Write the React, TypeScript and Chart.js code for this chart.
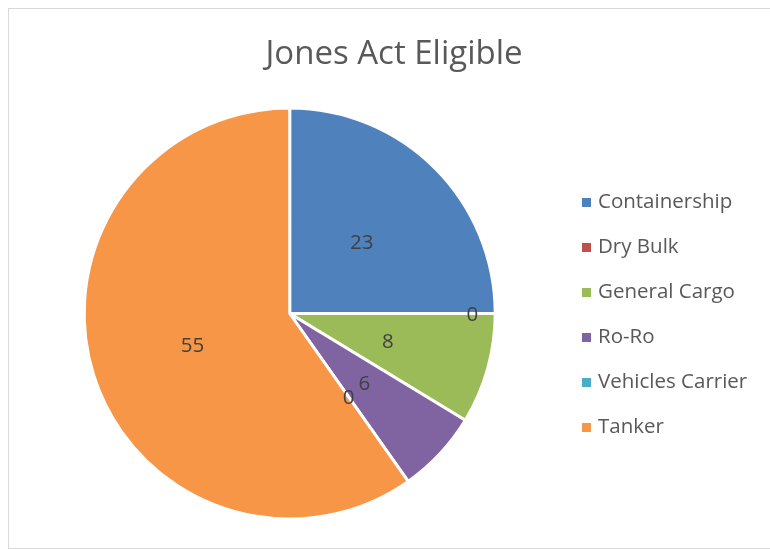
import React, { useEffect, useRef } from "react";
import { Chart, registerables } from "chart.js";

Chart.register(...registerables);

const TITLE = "Jones Act Eligible";
const categories = ["Containership", "Dry Bulk", "General Cargo", "Ro-Ro", "Vehicles Carrier", "Tanker"];
const values = [23, 0, 8, 6, 0, 55];
const colors = ["#4F81BD", "#C0504D", "#9BBB59", "#8064A2", "#4BACC6", "#F79646"];
// label distance from centre as a fraction of the radius (style only)
const labelRadiusFrac = [0.5, 0.895, 0.5, 0.5, 0.5, 0.5];

const FONT = "'Open Sans', 'DejaVu Sans', sans-serif";

const overlayPlugin = {
  id: "overlay",
  afterDatasetsDraw(chart: any) {
    const ctx = chart.ctx as CanvasRenderingContext2D;
    const meta = chart.getDatasetMeta(0);
    ctx.save();
    // data labels
    ctx.font = `20.5px ${FONT}`;
    ctx.fillStyle = "#404040";
    ctx.textAlign = "center";
    ctx.textBaseline = "alphabetic";
    meta.data.forEach((arc: any, i: number) => {
      const { x, y, startAngle, endAngle, outerRadius } = arc.getProps(
        ["x", "y", "startAngle", "endAngle", "outerRadius"],
        true
      );
      const mid = (startAngle + endAngle) / 2;
      const r = (outerRadius - 1.5) * labelRadiusFrac[i];
      const lx = x + Math.cos(mid) * r;
      const ly = y + Math.sin(mid) * r;
      ctx.fillText(String(values[i]), lx, ly + 7.3);
    });
    // title
    ctx.font = `33px ${FONT}`;
    ctx.fillStyle = "#595959";
    ctx.textAlign = "center";
    ctx.fillText(TITLE, 385, 55);
    // legend
    ctx.font = `20.5px ${FONT}`;
    ctx.textAlign = "left";
    categories.forEach((c, i) => {
      const top = 189 + i * 45;
      ctx.fillStyle = colors[i];
      ctx.fillRect(573, top, 9, 9);
      ctx.fillStyle = "#595959";
      ctx.fillText(c, 589, top + 10);
    });
    ctx.restore();
  },
};

export default function App() {
  const ref = useRef<HTMLCanvasElement | null>(null);
  useEffect(() => {
    if (!ref.current) return;
    const chart = new Chart(ref.current, {
      type: "pie",
      data: {
        labels: categories,
        datasets: [
          {
            data: values,
            backgroundColor: colors,
            borderColor: "#ffffff",
            borderWidth: 3,
            radius: 205.5,
          } as any,
        ],
      },
      options: {
        animation: false,
        responsive: false,
        maintainAspectRatio: false,
        events: [],
        layout: { padding: { left: 75.2, top: 99, right: 274.8, bottom: 29 } },
        plugins: {
          legend: { display: false },
          title: { display: false },
          tooltip: { enabled: false },
        },
      },
      plugins: [overlayPlugin],
    });
    return () => chart.destroy();
  }, []);
  return (
    <div
      style={{
        position: "absolute",
        left: 8,
        top: 8,
        width: 762,
        height: 541,
        boxSizing: "border-box",
        borderTop: "1px solid #d9d9d9",
        borderLeft: "1px solid #d9d9d9",
        borderBottom: "1px solid #d9d9d9",
        background: "#fff",
        overflow: "hidden",
      }}
    >
      <canvas ref={ref} width={761} height={539} style={{ display: "block", width: 761, height: 539 }} />
    </div>
  );
}
